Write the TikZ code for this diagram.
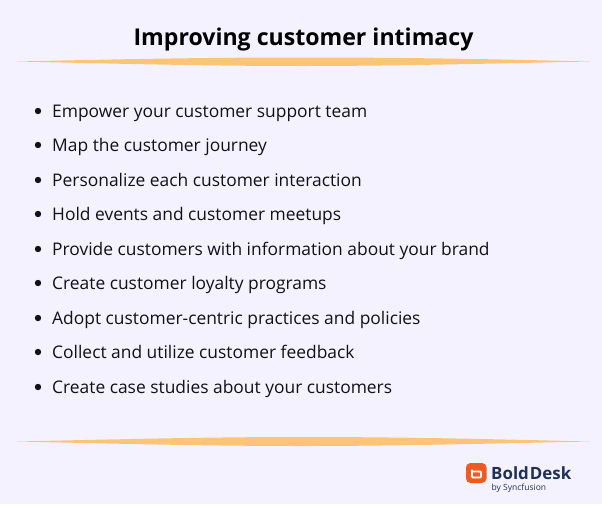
\documentclass[tikz,border=0pt]{standalone}
\usepackage{fontspec}
\setmainfont{Open Sans}
\definecolor{bgc}{HTML}{F5F2FF}
\definecolor{swash}{HTML}{FBC477}
\definecolor{inkc}{HTML}{111118}
\definecolor{navy}{HTML}{1F3157}
\definecolor{logoc}{HTML}{EE5A1F}
\tikzset{x=1pt,y=-1pt,
 item/.style={anchor=base west,inner sep=0pt,text=inkc,font=\fontsize{17.4}{20}\selectfont},
 dot/.style={circle,fill=inkc,inner sep=0pt,minimum size=6.4pt},
 swashline/.style={fill=swash,draw=none}}
\begin{document}
\begin{tikzpicture}
\useasboundingbox (0,0) rectangle (602,504);
\fill[bgc] (0,0) rectangle (602,504);
\node[anchor=base,inner sep=0pt,text=black,font=\fontsize{23.1}{27}\selectfont\bfseries] (title) at (303.5,45) {Improving customer intimacy};
\fill[swashline] (17,61.5) .. controls (150,58.5) and (220,57.5) .. (303,57.5) .. controls (390,57.5) and (470,58.5) .. (590,61.5) .. controls (470,64) and (390,66) .. (303,66) .. controls (220,66) and (150,64.5) .. (17,61.5) -- cycle;
\fill[swashline] (17,441.5) .. controls (150,438.5) and (220,437) .. (303,437) .. controls (390,437) and (470,438.5) .. (590,441.5) .. controls (470,444) and (390,446) .. (303,446) .. controls (220,446) and (150,444.5) .. (17,441.5) -- cycle;
\foreach \n/\y/\t in {a/117/Empower your customer support team,
 b/151/Map the customer journey,
 c/186/Personalize each customer interaction,
 d/220/Hold events and customer meetups,
 e/255/Provide customers with information about your brand,
 f/289/Create customer loyalty programs,
 g/324/Adopt customer-centric practices and policies,
 h/358/Collect and utilize customer feedback,
 i/393/Create case studies about your customers}{
 \node[dot] (dot\n) at (38,\y-6) {};
 \node[item] (\n) at (52,\y) {\t};
}
\fill[logoc,rounded corners=4.5pt] (466,463) rectangle (486.5,483);
\draw[white,line width=1.8pt,rounded corners=1pt] (472,469.5) -- (472,477.5) -- (481,477.5) -- (481,471.5) -- (472,471.5);
\node[anchor=base west,inner sep=0pt,text=navy,font=\fontsize{16.9}{20}\selectfont\bfseries] (brand) at (491,479) {Bold\kern1pt Desk};
\node[anchor=base west,inner sep=0pt,text=navy,font=\fontsize{8.5}{10}\selectfont] (sub) at (491.5,490.5) {by Syncfusion};
\end{tikzpicture}
\end{document}
